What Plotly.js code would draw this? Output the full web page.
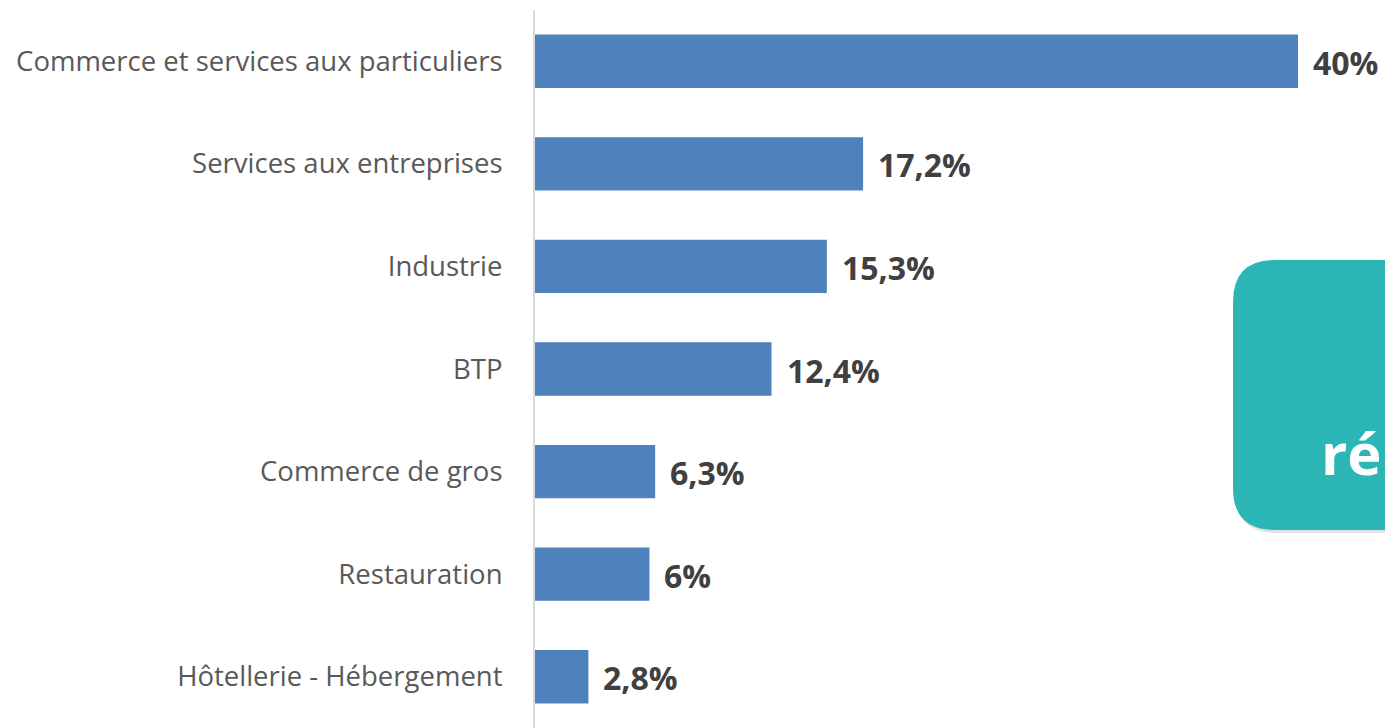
<!DOCTYPE html>
<html>
<head>
<meta charset="utf-8">
<script src="https://cdn.plot.ly/plotly-3.0.1.min.js"></script>
<style>html,body{margin:0;padding:0;background:#fff;overflow:hidden}#chart{width:1385px;height:728px}</style>
</head>
<body>
<div id="chart"></div>
<script>
const categories = ["Commerce et services aux particuliers","Services aux entreprises","Industrie","BTP","Commerce de gros","Restauration","Hôtellerie - Hébergement"];
const values = [40, 17.2, 15.3, 12.4, 6.3, 6, 2.8];
const valueLabels = ["40%","17,2%","15,3%","12,4%","6,3%","6%","2,8%"];

const W = 1385, H = 728, ML = 535, MT = 10, MR = 0, MB = 0;
const pw = W - ML - MR, ph = H - MT - MB;
const px = x => (x - ML) / pw;
const py = y => (H - MB - y) / ph;

function roundRect(x0, y0, x1, y1, r) {
  const X = px, Y = py;
  return `M ${X(x0 + r)} ${Y(y0)} L ${X(x1)} ${Y(y0)} L ${X(x1)} ${Y(y1)} L ${X(x0 + r)} ${Y(y1)} ` +
    `Q ${X(x0)} ${Y(y1)} ${X(x0)} ${Y(y1 - r)} L ${X(x0)} ${Y(y0 + r)} Q ${X(x0)} ${Y(y0)} ${X(x0 + r)} ${Y(y0)} Z`;
}

const trace = {
  type: 'bar', orientation: 'h',
  y: categories, x: values,
  marker: {color: '#4F81BD'},
  hoverinfo: 'none'
};

const annotations = categories.map((c, i) => ({
  x: values[i], y: c, xref: 'x', yref: 'y',
  text: valueLabels[i], showarrow: false,
  xanchor: 'left', yanchor: 'middle', xshift: 13, yshift: -1,
  font: {family: 'Open Sans', size: 32, color: '#404040', weight: 'bold'}
}));
annotations.push({
  x: px(1319), y: py(452), xref: 'paper', yref: 'paper',
  text: 'ré', showarrow: false, xanchor: 'left', yanchor: 'middle',
  font: {family: 'Open Sans', size: 58, color: '#ffffff', weight: 'bold'}
});

const layout = {
  width: W, height: H,
  margin: {l: ML, r: MR, t: MT, b: MB, pad: 0},
  paper_bgcolor: '#ffffff', plot_bgcolor: '#ffffff',
  showlegend: false,
  bargap: 0.48,
  xaxis: {range: [0, pw / 19.075], showgrid: false, zeroline: false, showticklabels: false, showline: false, fixedrange: true},
  yaxis: {autorange: 'reversed', type: 'category', showgrid: false, zeroline: false,
    showline: true, linecolor: '#D9D9D9', linewidth: 2,
    ticks: '', ticklabelstandoff: 25,
    tickfont: {family: 'Open Sans', size: 27.5, color: '#595959'}},
  shapes: [
    {type: 'path', xref: 'paper', yref: 'paper', path: roundRect(1235, 263, 1400, 533, 42),
      fillcolor: 'rgba(0,0,0,0.12)', line: {width: 0}, layer: 'above'},
    {type: 'path', xref: 'paper', yref: 'paper', path: roundRect(1233, 260, 1400, 530, 42),
      fillcolor: '#2BB5B5', line: {width: 0}, layer: 'above'}
  ],
  annotations: annotations
};

Plotly.newPlot('chart', [trace], layout, {displayModeBar: false, staticPlot: true});
</script>
</body>
</html>
